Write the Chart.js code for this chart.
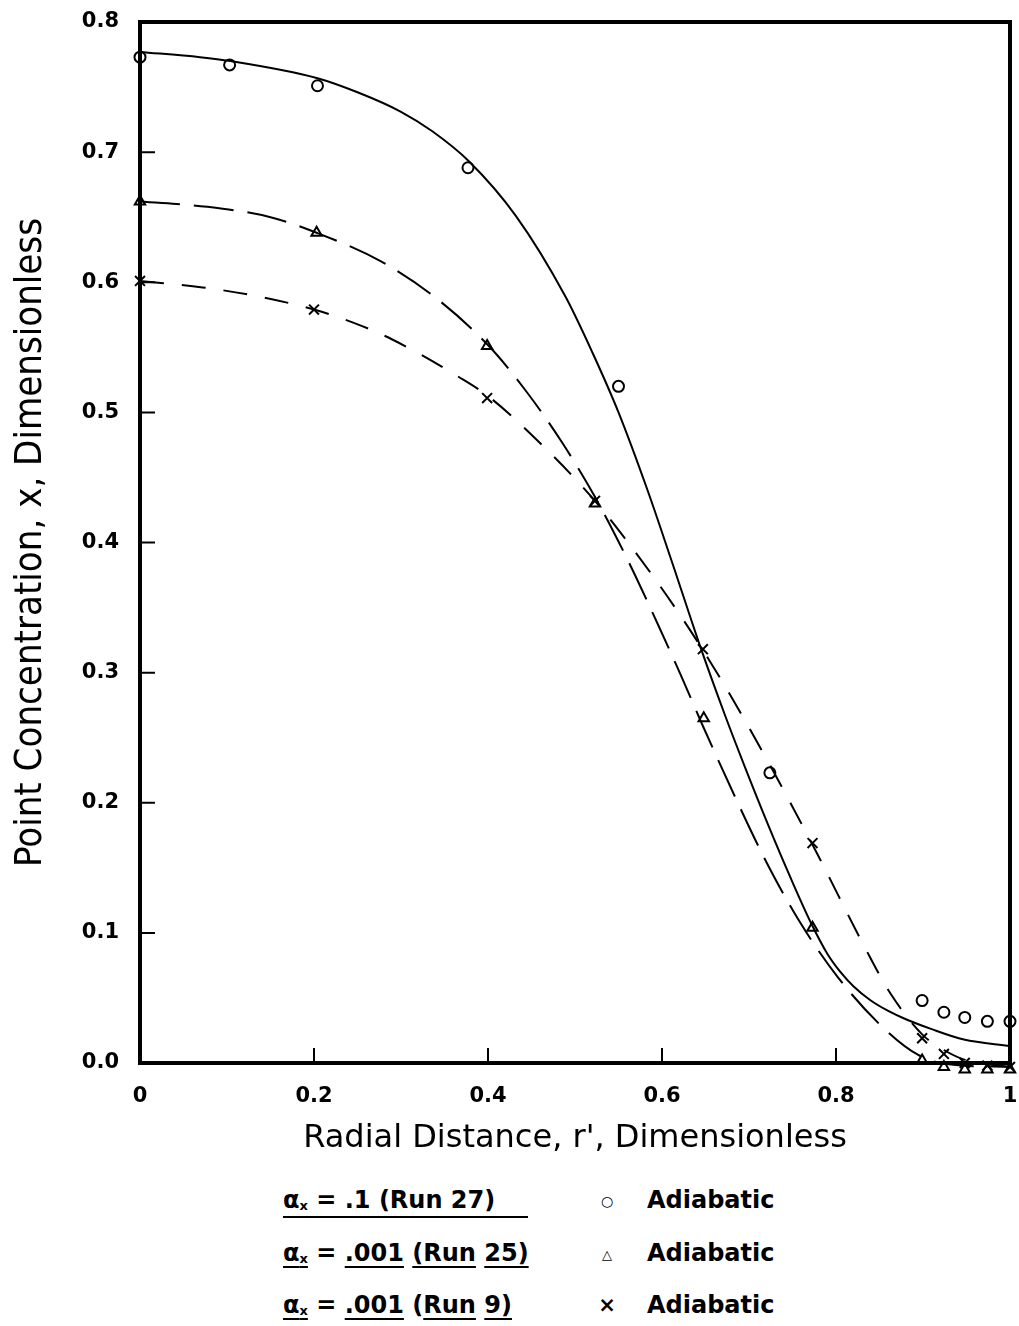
<!DOCTYPE html>
<html>
<head>
<meta charset="utf-8">
<script src="https://cdn.jsdelivr.net/npm/chart.js@4"></script>
<style>
  body { margin: 0; background: #fff; width: 1019px; height: 1326px; position: relative; overflow: hidden; }
  #chart { position: absolute; left: 0; top: 0; }
  .row { position: absolute; left: 283px; font: bold 24px "DejaVu Sans", sans-serif; color: #000; white-space: nowrap; }
  .row u { text-decoration-thickness: 2px; text-underline-offset: 5px; }
  .row sub { font-size: 13px; vertical-align: -2px; }
  .sym { position: absolute; left: 314px; width: 20px; text-align: center; }
  .lab { position: absolute; left: 364px; }
</style>
</head>
<body>
<canvas id="chart" width="1019" height="1160"></canvas>
<div class="row" style="top:1186px"><span style="display:inline-block;width:245px;border-bottom:2px solid #000;padding-bottom:2px">α<sub>x</sub> = .1 (Run 27)</span><span class="sym" style="font-size:14px;top:7px">○</span><span class="lab">Adiabatic</span></div>
<div class="row" style="top:1239px"><u>α<sub>x</sub></u> = <u>.001</u> <u>(Run</u> <u>25)</u><span class="sym" style="font-size:13px;top:8px">△</span><span class="lab">Adiabatic</span></div>
<div class="row" style="top:1291px"><u>α<sub>x</sub></u> = <u>.001</u> (<u>Run</u> <u>9)</u><span class="sym" style="font-size:21px;top:2px">×</span><span class="lab">Adiabatic</span></div>
<script>
// measured points (r', x)
const circleX = [0, 0.103, 0.204, 0.377, 0.55, 0.724, 0.899, 0.924, 0.948, 0.974, 1.0];
const circleY = [0.773, 0.767, 0.751, 0.688, 0.52, 0.223, 0.048, 0.039, 0.035, 0.032, 0.032];

const triX = [0, 0.203, 0.399, 0.523, 0.648, 0.773, 0.899, 0.924, 0.948, 0.974, 1.0];
const triY = [0.662, 0.638, 0.551, 0.430, 0.265, 0.104, 0.002, -0.003, -0.005, -0.005, -0.005];

const crossX = [0, 0.2, 0.399, 0.523, 0.647, 0.773, 0.899, 0.924, 0.948, 0.974, 1.0];
const crossY = [0.601, 0.579, 0.511, 0.432, 0.318, 0.169, 0.019, 0.007, 0.0, -0.002, -0.003];

// fitted curves
const run27X = [0, 0.069, 0.104, 0.203, 0.25, 0.3, 0.336, 0.378, 0.432, 0.489, 0.52, 0.55, 0.584, 0.611, 0.645, 0.672, 0.695, 0.722, 0.748, 0.771, 0.79, 0.805, 0.82, 0.84, 0.86, 0.879, 0.91, 0.947, 1.0];
const run27Y = [0.777, 0.773, 0.770, 0.757, 0.746, 0.731, 0.716, 0.693, 0.651, 0.589, 0.546, 0.500, 0.439, 0.386, 0.318, 0.268, 0.228, 0.183, 0.142, 0.108, 0.084, 0.070, 0.059, 0.048, 0.040, 0.034, 0.026, 0.018, 0.013];

const run25X = [0, 0.077, 0.15, 0.203, 0.277, 0.34, 0.401, 0.443, 0.485, 0.523, 0.561, 0.596, 0.621, 0.647, 0.685, 0.718, 0.756, 0.802, 0.856, 0.895, 0.93, 1.0];
const run25Y = [0.662, 0.658, 0.650, 0.638, 0.616, 0.588, 0.551, 0.517, 0.477, 0.435, 0.386, 0.336, 0.299, 0.259, 0.203, 0.157, 0.111, 0.066, 0.026, 0.006, -0.001, -0.003];

const run9X = [0, 0.072, 0.137, 0.2, 0.245, 0.29, 0.367, 0.401, 0.462, 0.523, 0.561, 0.615, 0.664, 0.724, 0.779, 0.833, 0.863, 0.899, 0.924, 0.95, 1.0];
const run9Y = [0.601, 0.596, 0.589, 0.579, 0.569, 0.556, 0.527, 0.512, 0.475, 0.432, 0.400, 0.350, 0.299, 0.229, 0.160, 0.089, 0.053, 0.022, 0.010, 0.002, -0.003];

const xTicks = [0, 0.2, 0.4, 0.6, 0.8, 1];
const yTicks = [0, 0.1, 0.2, 0.3, 0.4, 0.5, 0.6, 0.7, 0.8];

const pts = (xs, ys) => xs.map((x, i) => ({ x: x, y: ys[i] }));

const curve = (xs, ys, dash) => ({
  data: pts(xs, ys),
  showLine: true,
  borderColor: '#000',
  borderWidth: 2,
  borderDash: dash,
  pointRadius: 0,
  cubicInterpolationMode: 'monotone',
  clip: false
});

const markers = (xs, ys, style, r) => ({
  data: pts(xs, ys),
  showLine: false,
  pointStyle: style,
  pointRadius: r,
  borderColor: '#000',
  backgroundColor: 'rgba(0,0,0,0)',
  borderWidth: 2,
  clip: false
});

// box around the plot and inward tick marks
const framePlugin = {
  id: 'frame',
  beforeDatasetsDraw(chart) {
    const { ctx, chartArea: a, scales: { x, y } } = chart;
    ctx.save();
    ctx.strokeStyle = '#000';
    ctx.lineWidth = 4;
    ctx.strokeRect(a.left, a.top, a.right - a.left, a.bottom - a.top);
    ctx.lineWidth = 2;
    ctx.beginPath();
    xTicks.slice(1, -1).forEach(v => {
      const px = x.getPixelForValue(v);
      ctx.moveTo(px, a.bottom);
      ctx.lineTo(px, a.bottom - 15);
    });
    yTicks.slice(1, -1).forEach(v => {
      const py = y.getPixelForValue(v);
      ctx.moveTo(a.left, py);
      ctx.lineTo(a.left + 15, py);
    });
    ctx.stroke();
    ctx.restore();
  }
};

new Chart(document.getElementById('chart'), {
  type: 'scatter',
  data: {
    datasets: [
      curve(run27X, run27Y, []),
      curve(run25X, run25Y, [40, 14]),
      curve(run9X, run9Y, [24, 18]),
      markers(circleX, circleY, 'circle', 5.5),
      markers(triX, triY, 'triangle', 6),
      markers(crossX, crossY, 'crossRot', 7)
    ]
  },
  options: {
    responsive: false,
    animation: false,
    devicePixelRatio: 1,
    layout: { padding: { left: 0, right: 6, top: 22, bottom: 0 } },
    plugins: { legend: { display: false }, tooltip: { enabled: false } },
    scales: {
      x: {
        type: 'linear',
        min: 0,
        max: 1,
        afterFit(s) { s.height = 97; s.paddingLeft = 0; s.paddingRight = 0; },
        afterBuildTicks(s) { s.ticks = xTicks.map(v => ({ value: v })); },
        grid: { display: false, drawTicks: false },
        border: { display: false },
        ticks: {
          color: '#000',
          padding: 21,
          font: { family: 'DejaVu Sans', size: 21, weight: 'bold' },
          callback: v => (v === 0 || v === 1) ? String(v) : v.toFixed(1)
        },
        title: {
          display: true,
          text: "Radial Distance, r', Dimensionless",
          color: '#000',
          font: { family: 'DejaVu Sans', size: 32 },
          padding: { top: 0, bottom: 2 }
        }
      },
      y: {
        type: 'linear',
        min: 0,
        max: 0.8,
        afterFit(s) { s.width = 140; s.paddingTop = 0; s.paddingBottom = 0; },
        afterBuildTicks(s) { s.ticks = yTicks.map(v => ({ value: v })); },
        grid: { display: false, drawTicks: false },
        border: { display: false },
        ticks: {
          color: '#000',
          padding: 21,
          font: { family: 'DejaVu Sans', size: 21, weight: 'bold' },
          callback: v => v.toFixed(1)
        },
        title: {
          display: true,
          text: 'Point Concentration, x, Dimensionless',
          color: '#000',
          font: { family: 'DejaVu Sans Condensed', size: 38 },
          padding: { top: 8, bottom: 0 }
        }
      }
    }
  },
  plugins: [framePlugin]
});
</script>
</body>
</html>
